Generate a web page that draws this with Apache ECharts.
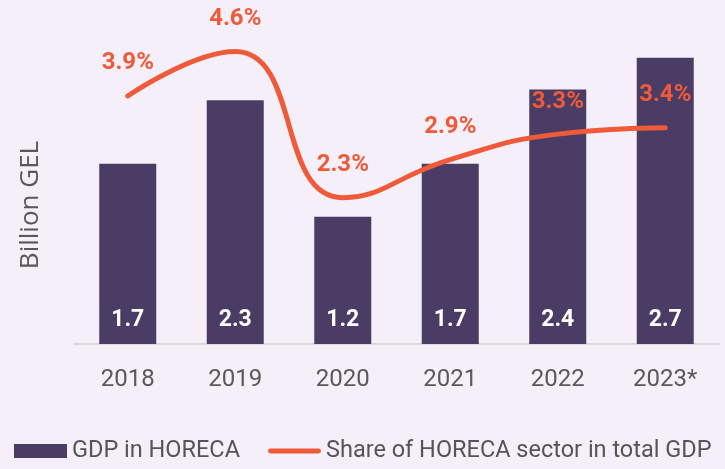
<!DOCTYPE html>
<html lang="en">
<head>
    <meta charset="UTF-8">
    <title>GDP in HORECA</title>
    <script src="https://cdn.jsdelivr.net/npm/echarts@6/dist/echarts.min.js"></script>
    <style>
        html, body { margin: 0; padding: 0; background: #f5eff9; }
        #chartmain { width: 725px; height: 469px; }
    </style>
</head>
<body>
<div id="chartmain"></div>
<script>
    // data
    var years = ["2018", "2019", "2020", "2021", "2022", "2023*"];
    var gdpHoreca = [1.7, 2.3, 1.2, 1.7, 2.4, 2.7];      // billion GEL
    var horecaShare = [3.9, 4.6, 2.3, 2.9, 3.3, 3.4];    // % of total GDP

    var barColor = '#4b3c66';
    var lineColor = '#ef5a39';

    var option = {
        backgroundColor: '#f5eff9',
        textStyle: { fontFamily: 'Roboto' },
        grid: { left: 74, right: 6, top: 26, bottom: 125 },
        legend: {
            left: 14,
            bottom: 6,
            width: 711,
            padding: 0,
            itemGap: 28,
            itemWidth: 53,
            itemHeight: 14,
            textStyle: { fontSize: 23.5, color: '#555555', fontFamily: 'Roboto' },
            data: [
                { name: 'GDP in HORECA', icon: 'rect' },
                // thin rounded stroke inside the legend box
                { name: 'Share of HORECA sector in total GDP',
                  icon: 'path://M0,0 M54,14 M2.5,4.5 L51.5,4.5 A2.5,2.5 0 0 1 51.5,9.5 L2.5,9.5 A2.5,2.5 0 0 1 2.5,4.5 Z' }
            ]
        },
        xAxis: {
            type: 'category',
            data: years,
            axisTick: { show: false },
            axisLine: { lineStyle: { color: '#d9d9d9', width: 2 } },
            axisLabel: { fontSize: 24, color: '#595959', margin: 24 }
        },
        yAxis: [
            {
                type: 'value',
                min: 0,
                max: 3,
                name: 'Billion GEL',
                nameLocation: 'middle',
                nameGap: 30,
                nameTextStyle: { fontSize: 26, color: '#595959', fontFamily: 'Open Sans', padding: [0, 40, 0, 0] },
                axisLabel: { show: false },
                axisLine: { show: false },
                axisTick: { show: false },
                splitLine: { show: false }
            },
            {
                type: 'value',
                min: 0,
                max: 5,
                show: false,
                splitLine: { show: false }
            }
        ],
        series: [
            {
                name: 'GDP in HORECA',
                type: 'bar',
                data: gdpHoreca,
                barWidth: 57,
                itemStyle: { color: barColor },
                label: {
                    show: true,
                    position: 'insideBottom',
                    distance: 12,
                    color: '#ffffff',
                    fontWeight: 'bold',
                    fontSize: 23,
                    formatter: function (p) { return p.value.toFixed(1); }
                }
            },
            {
                name: 'Share of HORECA sector in total GDP',
                type: 'line',
                yAxisIndex: 1,
                data: horecaShare,
                smooth: true,
                symbol: 'circle',
                symbolSize: 1,
                showSymbol: true,
                lineStyle: { color: lineColor, width: 5, cap: 'round' },
                itemStyle: { color: lineColor },
                label: {
                    show: true,
                    position: 'top',
                    distance: 20,
                    color: lineColor,
                    fontWeight: 'bold',
                    fontSize: 24,
                    formatter: function (p) { return p.value.toFixed(1) + '%'; }
                }
            }
        ]
    };

    var myChart = echarts.init(document.getElementById('chartmain'));
    myChart.setOption(option);
</script>
</body>
</html>
